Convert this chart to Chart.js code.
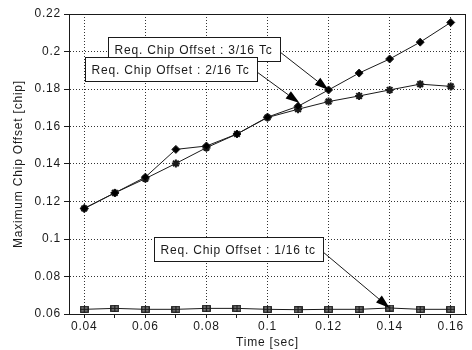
<!DOCTYPE html>
<html>
<head>
<meta charset="utf-8">
<script src="https://cdn.jsdelivr.net/npm/chart.js@4/dist/chart.umd.min.js"></script>
<style>
  html, body { margin: 0; padding: 0; background: #fff; }
  canvas { display: block; }
</style>
</head>
<body>
<canvas id="chart" width="472" height="350"></canvas>
<script>
// Time axis (sec)
const time = [0.04, 0.05, 0.06, 0.07, 0.08, 0.09, 0.10, 0.11, 0.12, 0.13, 0.14, 0.15, 0.16];

// Maximum chip offset [chip] per required chip offset
const offset3of16 = [0.1163, 0.1246, 0.1330, 0.1478, 0.1496, 0.1560, 0.1650, 0.1708, 0.1795, 0.1885, 0.1960, 0.2050, 0.2155];
const offset2of16 = [0.1163, 0.1246, 0.1322, 0.1403, 0.1487, 0.1560, 0.1648, 0.1692, 0.1733, 0.1763, 0.1795, 0.1826, 0.1814];
const offset1of16 = [0.0625, 0.0630, 0.0625, 0.0625, 0.0630, 0.0630, 0.0625, 0.0623, 0.0625, 0.0625, 0.0632, 0.0625, 0.0625];

const yTicks = [0.06, 0.08, 0.10, 0.12, 0.14, 0.16, 0.18, 0.20, 0.22];
const xLabelTicks = [0.04, 0.06, 0.08, 0.10, 0.12, 0.14, 0.16];

const noteLabels = ['Req. Chip Offset : 3/16 Tc', 'Req. Chip Offset : 2/16 Tc', 'Req. Chip Offset : 1/16 tc'];

const INK = '#1a1a1a';
const GRID = 'rgba(0,0,0,0.8)';
const FONT = '"Liberation Sans", Arial, sans-serif';

// square with a cross, used for the 1/16 series
function squareCross(w, h) {
  const c = document.createElement('canvas');
  c.width = w; c.height = h;
  const g = c.getContext('2d');
  g.fillStyle = '#9a9a9a';
  g.fillRect(0.5, 0.5, w - 1, h - 1);
  g.strokeStyle = INK;
  g.lineWidth = 1.3;
  g.strokeRect(0.75, 0.75, w - 1.5, h - 1.5);
  g.beginPath();
  g.moveTo(w / 2, 0); g.lineTo(w / 2, h);
  g.moveTo(0, h / 2); g.lineTo(w, h / 2);
  g.stroke();
  return c;
}

const isLabelled = v => xLabelTicks.some(t => Math.abs(t - v) < 1e-6);
const fmt = v => String(+v.toFixed(2));

// text boxes with arrows, anchored in data units
const notes = [
  { text: noteLabels[0], box: [0.0479, 0.2077], tip: [time[8], offset3of16[8]] },
  { text: noteLabels[1], box: [0.0404, 0.1971], tip: [0.1105, 0.1725] },
  { text: noteLabels[2], box: [0.0629, 0.1011], tip: [time[10], offset1of16[10]] }
];

const spacingPlugin = {
  id: 'spacing',
  beforeDraw(chart) { chart.ctx.letterSpacing = '0.8px'; }
};

const framePlugin = {
  id: 'frame',
  afterDatasetsDraw(chart) {
    const { ctx, chartArea: a, scales: { x, y } } = chart;
    ctx.save();
    ctx.setLineDash([]);
    ctx.strokeStyle = INK;
    ctx.lineWidth = 1;
    ctx.strokeRect(Math.round(a.left) + 0.5, Math.round(a.top) + 0.5,
      Math.round(a.right - a.left) - 1, Math.round(a.bottom - a.top));

    ctx.font = '12px ' + FONT;
    ctx.letterSpacing = '0.8px';
    ctx.textBaseline = 'middle';
    ctx.textAlign = 'left';
    notes.forEach(n => {
      const bx = Math.round(x.getPixelForValue(n.box[0])) + 0.5;
      const by = Math.round(y.getPixelForValue(n.box[1])) + 0.5;
      const w = Math.round(ctx.measureText(n.text).width + 14);
      const h = 24;
      const tx = x.getPixelForValue(n.tip[0]);
      const ty = y.getPixelForValue(n.tip[1]);
      const sx = bx + w, sy = by + h * 0.62;

      // arrow from the right side of the box to the tip
      const ang = Math.atan2(ty - sy, tx - sx);
      const len = 14, half = 4.5;
      const cx = tx - len * Math.cos(ang), cy = ty - len * Math.sin(ang);
      ctx.strokeStyle = INK;
      ctx.fillStyle = '#000';
      ctx.lineWidth = 1;
      ctx.beginPath();
      ctx.moveTo(sx, sy);
      ctx.lineTo(cx, cy);
      ctx.stroke();
      ctx.beginPath();
      ctx.moveTo(tx, ty);
      ctx.lineTo(cx + half * Math.sin(ang), cy - half * Math.cos(ang));
      ctx.lineTo(cx - half * Math.sin(ang), cy + half * Math.cos(ang));
      ctx.closePath();
      ctx.fill();

      ctx.fillStyle = '#fff';
      ctx.fillRect(bx, by, w, h);
      ctx.strokeRect(bx, by, w, h);
      ctx.fillStyle = INK;
      ctx.fillText(n.text, bx + 6, by + h / 2 + 1);
    });
    ctx.restore();
  }
};

const lineStyle = {
  borderColor: INK,
  backgroundColor: INK,
  borderWidth: 1,
  tension: 0,
  clip: false,
  pointBorderColor: INK
};

new Chart(document.getElementById('chart'), {
  type: 'line',
  data: {
    datasets: [
      {
        ...lineStyle,
        label: noteLabels[0],
        data: time.map((t, i) => ({ x: t, y: offset3of16[i] })),
        pointStyle: 'rectRot',
        pointRadius: 4,
        pointBackgroundColor: '#000'
      },
      {
        ...lineStyle,
        label: noteLabels[1],
        data: time.map((t, i) => ({ x: t, y: offset2of16[i] })),
        pointStyle: 'star',
        pointRadius: 4,
        pointBorderWidth: 2
      },
      {
        ...lineStyle,
        label: noteLabels[2],
        data: time.map((t, i) => ({ x: t, y: offset1of16[i] })),
        pointStyle: squareCross(9, 7)
      }
    ]
  },
  options: {
    responsive: false,
    animation: false,
    layout: { padding: { top: 14, right: 6, left: 0, bottom: 0 } },
    plugins: {
      legend: { display: false },
      tooltip: { enabled: false }
    },
    scales: {
      x: {
        type: 'linear',
        min: 0.035,
        max: 0.165,
        afterBuildTicks: scale => { scale.ticks = time.map(v => ({ value: v })); },
        afterFit: scale => { scale.height = 36; },
        grid: {
          color: ctx => (ctx.tick && isLabelled(ctx.tick.value)) ? GRID : 'rgba(0,0,0,0)',
          borderDash: [1, 2],
          tickColor: INK,
          tickBorderDash: [],
          tickLength: 4
        },
        border: { display: true, color: INK, dash: [1, 2] },
        ticks: {
          autoSkip: false,
          maxRotation: 0,
          padding: 1,
          color: INK,
          font: { family: FONT, size: 12 },
          callback: v => isLabelled(v) ? fmt(v) : ''
        },
        title: {
          display: true,
          text: 'Time [sec]',
          color: INK,
          font: { family: FONT, size: 12 },
          padding: { top: 0, bottom: 0 }
        }
      },
      y: {
        min: yTicks[0],
        max: yTicks[yTicks.length - 1],
        afterBuildTicks: scale => { scale.ticks = yTicks.map(v => ({ value: v })); },
        afterFit: scale => { scale.width = 69; },
        grid: {
          color: GRID,
          borderDash: [1, 2],
          tickColor: INK,
          tickBorderDash: [],
          tickLength: 5
        },
        border: { display: true, color: INK, dash: [1, 2] },
        ticks: {
          padding: 3,
          color: INK,
          font: { family: FONT, size: 12 },
          callback: v => fmt(v)
        },
        title: {
          display: true,
          text: 'Maximum Chip Offset [chip]',
          color: INK,
          font: { family: FONT, size: 12 },
          padding: { top: 11, bottom: 0 }
        }
      }
    }
  },
  plugins: [spacingPlugin, framePlugin]
});
</script>
</body>
</html>
